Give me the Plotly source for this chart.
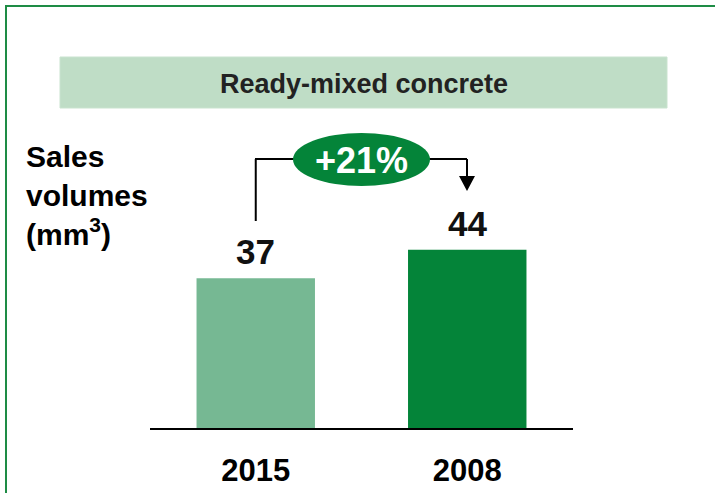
import plotly.graph_objects as go

# ---- data ----
categories = ["2015", "2008"]
volumes = [37, 44]
bar_colors = ["#76B893", "#048439"]
growth_label = "+21%"
title_text = "Ready-mixed concrete"
ylabel_text = "Sales<br>volumes<br>(mm<sup>3</sup>)"

W, H = 715, 493
L, R, T, B = 150, 142, 0, 65
PW, PH = W - L - R, H - T - B
YMAX = 105.7

def px(x):
    return (x - L) / PW

def py(y):
    return (H - B - y) / PH

FONT = "Liberation Sans, Arial, sans-serif"

fig = go.Figure()
fig.add_trace(go.Bar(
    x=categories, y=volumes, marker=dict(color=bar_colors, line=dict(width=0)),
    width=0.56, hoverinfo="skip",
))

# value labels above bars
for i, v in enumerate(volumes):
    fig.add_annotation(x=i, y=v, xref="x", yref="y", text=f"<b>{v}</b>",
                       showarrow=False, xanchor="center", yanchor="bottom", yshift=5,
                       font=dict(family=FONT, size=35, color="#111111"))

shapes = []
# outer frame
shapes.append(dict(type="rect", xref="paper", yref="paper",
                   x0=px(6), x1=px(730), y0=py(6), y1=py(510),
                   line=dict(color="#1E8C45", width=2), fillcolor="rgba(0,0,0,0)", layer="below"))
# title box
shapes.append(dict(type="rect", xref="paper", yref="paper",
                   x0=px(60), x1=px(667), y0=py(57), y1=py(108),
                   line=dict(color="#C9E3CF", width=1), fillcolor="#BFDDC6", layer="below"))
# bracket left vertical + horizontal
shapes.append(dict(type="line", xref="x", yref="paper", x0=0, x1=0, y0=py(221), y1=py(159),
                   line=dict(color="#000000", width=2)))
shapes.append(dict(type="line", xref="paper", yref="paper", x0=px(255), x1=px(300), y0=py(159), y1=py(159),
                   line=dict(color="#000000", width=2)))
# bracket right horizontal + vertical
shapes.append(dict(type="line", xref="paper", yref="paper", x0=px(425), x1=px(467), y0=py(159), y1=py(159),
                   line=dict(color="#000000", width=2)))
shapes.append(dict(type="line", xref="paper", yref="paper", x0=px(467), x1=px(467), y0=py(159), y1=py(178),
                   line=dict(color="#000000", width=2)))
# arrow head
shapes.append(dict(type="path", xref="paper", yref="paper",
                   path=f"M {px(459)} {py(176)} L {px(475)} {py(176)} L {px(467)} {py(191)} Z",
                   fillcolor="#000000", line=dict(width=0)))
# growth ellipse
shapes.append(dict(type="circle", xref="paper", yref="paper",
                   x0=px(293), x1=px(430), y0=py(133), y1=py(186),
                   fillcolor="#048439", line=dict(width=0)))

fig.update_layout(shapes=shapes)

fig.add_annotation(xref="paper", yref="paper", x=px(363.5), y=py(84), text=f"<b>{title_text}</b>",
                   showarrow=False, xanchor="center", yanchor="middle",
                   font=dict(family=FONT, size=27, color="#222222"))
fig.add_annotation(xref="paper", yref="paper", x=px(361.5), y=py(160), text=f"<b>{growth_label}</b>",
                   showarrow=False, xanchor="center", yanchor="middle",
                   font=dict(family=FONT, size=36, color="#FFFFFF"))
fig.add_annotation(xref="paper", yref="paper", x=px(24), y=py(138), text=f"<b>{ylabel_text}</b>",
                   showarrow=False, xanchor="left", yanchor="top", align="left",
                   font=dict(family=FONT, size=30, color="#000000"))

fig.update_layout(
    width=W, height=H, margin=dict(l=L, r=R, t=T, b=B),
    paper_bgcolor="white", plot_bgcolor="white", showlegend=False,
    xaxis=dict(type="category", range=[-0.5, 1.5], showline=True, linecolor="#000000", linewidth=1.5,
               showgrid=False, ticks="", ticklabelstandoff=14,
               tickfont=dict(family=FONT, size=31, color="#000000", weight="bold")),
    yaxis=dict(range=[0, YMAX], visible=False, showgrid=False, zeroline=False),
)

fig.write_html("out.html")
